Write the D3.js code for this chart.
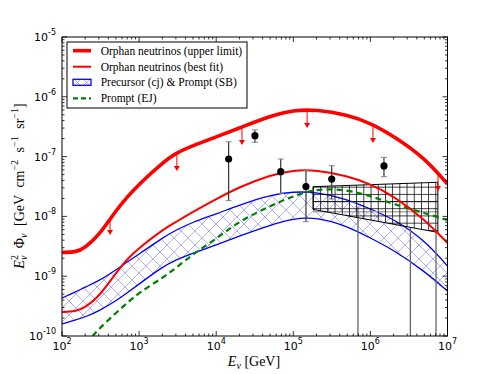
<!DOCTYPE html>
<html><head><meta charset="utf-8">
<script src="https://cdn.jsdelivr.net/npm/d3@7"></script>
<style>body{margin:0;background:#fff}
.serif{font-family:"Liberation Serif","Times New Roman","DejaVu Serif",serif}
.sans{font-family:"DejaVu Sans",sans-serif}</style>
</head><body><svg id="c" width="498" height="374"></svg>
<script>
// ---------- data ----------
const energyGrid = [1e2,1.5e2,2e2,3e2,5e2,7e2,1e3,2e3,3e3,5e3,1e4,2e4,5e4,1e5,2e5,5e5,1e6,2e6,5e6,1e7];
const upperLimit = [2.5e-9,2.5e-9,3.0e-9,4.8e-9,1.25e-8,2.11e-8,3.48e-8,7.82e-8,1.15e-7,1.53e-7,2.13e-7,3.01e-7,4.78e-7,6.0e-7,6.1e-7,5.0e-7,3.65e-7,2.21e-7,9.66e-8,3.48e-8];
const bestFit    = [2.52e-10,2.55e-10,3.0e-10,4.49e-10,1.13e-9,1.94e-9,2.96e-9,5.93e-9,8.05e-9,1.19e-8,1.95e-8,3.10e-8,4.92e-8,5.95e-8,5.95e-8,4.75e-8,3.48e-8,2.19e-8,9.06e-9,3.59e-9];
const bandUpper  = [4.32e-10,5.44e-10,6.59e-10,8.31e-10,1.27e-9,1.73e-9,2.35e-9,4.35e-9,5.93e-9,8.05e-9,1.10e-8,1.55e-8,2.28e-8,2.6e-8,2.55e-8,1.95e-8,1.33e-8,9.06e-9,4.03e-9,1.48e-9];
const bandLower  = [1.59e-10,1.85e-10,2.08e-10,2.62e-10,3.85e-10,5.24e-10,7.41e-10,1.43e-9,1.87e-9,2.44e-9,3.33e-9,4.70e-9,7.18e-9,9.2e-9,9.7e-9,6.9e-9,4.35e-9,2.74e-9,1.22e-9,5.66e-10];
const promptE    = [250,300,500,700,1e3,2e3,3e3,5e3,1e4,2e4,5e4,1e5,2e5,5e5,1e6,2e6,5e6,1e7];
const promptEJ   = [1.0e-10,1.31e-10,2.43e-10,3.56e-10,5.3e-10,9.33e-10,1.37e-9,2.35e-9,4.19e-9,8.37e-9,1.49e-8,2.19e-8,2.9e-8,2.8e-8,2.19e-8,1.61e-8,1.14e-8,8.7e-9];
const arrowE     = [420,3090,21600,1.51e5,1.08e6,7.53e6];
const arrowF     = [9.77e-9,1.15e-7,3.13e-7,6.0e-7,3.37e-7,5.32e-8];
const pointE     = [14500,31800,68700,1.46e5,3.15e5,1.5e6];
const pointF     = [9.12e-8,2.24e-7,5.6e-8,3.16e-8,4.22e-8,6.97e-8];
const pointLo    = [1.83e-8,1.73e-7,2.43e-8,8.15e-9,1.95e-8,4.61e-8];
const pointHi    = [1.77e-7,2.79e-7,9.12e-8,5.81e-8,7.05e-8,9.73e-8];
const boxE       = [1.8e5,7.5e6];
const boxTop     = [3.14e-8,3.72e-8];
const boxBottom  = [1.31e-8,5.4e-9];
const grayHLines = [1.76e-8,1.2e-8];
const grayVE     = [6.9e5,3.3e6,7.1e6];
const grayVTop   = [1.44e-8,null,null];
const xTicks = [2,3,4,5,6,7];
const yTicks = [-10,-9,-8,-7,-6,-5];
const legendLabels = ["Orphan neutrinos (upper limit)","Orphan neutrinos (best fit)","Precursor (cj) & Prompt (SB)","Prompt (EJ)"];

// ---------- chart ----------
const svg = d3.select('#c');
const M = {l:62, r:447.5, t:37, b:336};
const x = d3.scaleLog().domain([1e2,1e7]).range([M.l,M.r]);
const y = d3.scaleLog().domain([1e-10,1e-5]).range([M.b,M.t]);
const defs = svg.append('defs');
defs.append('clipPath').attr('id','clip').append('rect')
  .attr('x',M.l).attr('y',M.t).attr('width',M.r-M.l).attr('height',M.b-M.t);
const hx = defs.append('pattern').attr('id','hx').attr('patternUnits','userSpaceOnUse')
  .attr('width',14).attr('height',14).attr('patternTransform','translate(62,0)');
hx.append('path').attr('d','M0,0L14,14M14,0L0,14').attr('stroke','#7a7aff').attr('stroke-width',0.6).attr('fill','none');
const hxs = defs.append('pattern').attr('id','hxs').attr('patternUnits','userSpaceOnUse')
  .attr('width',9).attr('height',9).attr('patternTransform','translate(73,78)');
hxs.append('path').attr('d','M0,0L9,9M9,0L0,9').attr('stroke','#7a7aff').attr('stroke-width',0.6).attr('fill','none');
const hg = defs.append('pattern').attr('id','hg').attr('patternUnits','userSpaceOnUse')
  .attr('width',7.2).attr('height',7.2).attr('patternTransform','translate('+x(boxE[0])+','+y(boxTop[0])+')');
hg.append('path').attr('d','M0.4,0V7.2M0,0.4H7.2').attr('stroke','#000').attr('stroke-width',0.8).attr('fill','none');

const g = svg.append('g').attr('clip-path','url(#clip)');
const curve = d3.curveBasis;

// blue band
const area = d3.area().x((d,i)=>x(energyGrid[i])).y0((d,i)=>y(bandLower[i])).y1((d,i)=>y(bandUpper[i])).curve(curve);
g.append('path').datum(energyGrid).attr('d',area).attr('fill','url(#hx)');
const line = (E,F)=>d3.line().x((d,i)=>x(E[i])).y((d,i)=>y(F[i])).curve(curve)(E);
g.append('path').attr('d',line(energyGrid,bandUpper)).attr('fill','none').attr('stroke','#0000ff').attr('stroke-width',1.3);
g.append('path').attr('d',line(energyGrid,bandLower)).attr('fill','none').attr('stroke','#0000ff').attr('stroke-width',1.3);

// gray lines
grayHLines.forEach(f=>g.append('line').attr('x1',x(boxE[0])).attr('x2',x(boxE[1])).attr('y1',y(f)).attr('y2',y(f))
  .attr('stroke','#aaa').attr('stroke-width',1.5));
const boxBotAt = e => { const t=(Math.log10(e)-Math.log10(boxE[0]))/(Math.log10(boxE[1])-Math.log10(boxE[0]));
  return Math.pow(10, Math.log10(boxBottom[0])+t*(Math.log10(boxBottom[1])-Math.log10(boxBottom[0]))); };
grayVE.forEach((e,i)=>{
  const top = grayVTop[i] ?? boxBotAt(Math.min(e,boxE[1]));
  g.append('line').attr('x1',x(e)).attr('x2',x(e)).attr('y1',y(top)).attr('y2',y(1e-10)).attr('stroke','#666').attr('stroke-width',1.3);
  if (grayVTop[i]) g.append('line').attr('x1',x(e)-3).attr('x2',x(e)+3).attr('y1',y(top)).attr('y2',y(top)).attr('stroke','#aaa').attr('stroke-width',1);
});

// black hatched box
const boxPts = [[boxE[0],boxTop[0]],[boxE[1],boxTop[1]],[boxE[1],boxBottom[1]],[boxE[0],boxBottom[0]]];
g.append('polygon').attr('points',boxPts.map(p=>x(p[0])+','+y(p[1])).join(' '))
  .attr('fill','url(#hg)').attr('stroke','#000').attr('stroke-width',1);

// green dashed
g.append('path').attr('d',line(promptE,promptEJ)).attr('fill','none').attr('stroke','#008000').attr('stroke-width',2.2).attr('stroke-dasharray','6,4');
// thin red
g.append('path').attr('d',line(energyGrid,bestFit)).attr('fill','none').attr('stroke','#ff0000').attr('stroke-width',2);
// thick red
g.append('path').attr('d',line(energyGrid,upperLimit)).attr('fill','none').attr('stroke','#ff0000').attr('stroke-width',3.6);

// arrows
arrowE.forEach((e,i)=>{
  const x0=x(e), y0=y(arrowF[i]), y1=y(arrowF[i]/2);
  g.append('line').attr('x1',x0).attr('x2',x0).attr('y1',y0).attr('y2',y1-3).attr('stroke','#ff0000').attr('stroke-width',1);
  g.append('path').attr('d',`M${x0-3},${y1-5}L${x0+3},${y1-5}L${x0},${y1}Z`).attr('fill','#ff0000');
});

// data points
pointE.forEach((e,i)=>{
  const x0=x(e);
  g.append('line').attr('x1',x0).attr('x2',x0).attr('y1',y(pointLo[i])).attr('y2',y(pointHi[i])).attr('stroke','#333').attr('stroke-width',1.2);
  [pointLo[i],pointHi[i]].forEach(v=>g.append('line').attr('x1',x0-3).attr('x2',x0+3).attr('y1',y(v)).attr('y2',y(v)).attr('stroke','#888').attr('stroke-width',1));
  g.append('circle').attr('cx',x0).attr('cy',y(pointF[i])).attr('r',3.6).attr('fill','#000');
});

// frame
svg.append('rect').attr('x',M.l).attr('y',M.t).attr('width',M.r-M.l).attr('height',M.b-M.t).attr('fill','none').attr('stroke','#000').attr('stroke-width',1);

// ticks
const tk = svg.append('g').attr('stroke','#000').attr('stroke-width',0.8);
xTicks.forEach(p=>{
  for (let m=1;m<=9;m++){
    const v=m*Math.pow(10,p); if (v>1e7) break;
    const L = m===1?5:2.5, xx=x(v);
    tk.append('line').attr('x1',xx).attr('x2',xx).attr('y1',M.b).attr('y2',M.b-L);
    tk.append('line').attr('x1',xx).attr('x2',xx).attr('y1',M.t).attr('y2',M.t+L);
  }
});
yTicks.forEach(p=>{
  for (let m=1;m<=9;m++){
    const v=m*Math.pow(10,p); if (v>1e-5*1.0001) break;
    const L = m===1?5:2.5, yy=y(v);
    tk.append('line').attr('x1',M.l).attr('x2',M.l+L).attr('y1',yy).attr('y2',yy);
    tk.append('line').attr('x1',M.r).attr('x2',M.r-L).attr('y1',yy).attr('y2',yy);
  }
});
xTicks.forEach(p=>{
  const t=svg.append('text').attr('class','sans').attr('x',x(Math.pow(10,p))).attr('y',350).attr('text-anchor','middle').attr('font-size',11);
  t.append('tspan').text('10');
  t.append('tspan').attr('dy',-6).attr('font-size',8).text(p);
});
yTicks.forEach(p=>{
  const t=svg.append('text').attr('class','sans').attr('x',56).attr('y',y(Math.pow(10,p))+4).attr('text-anchor','end').attr('font-size',11);
  t.append('tspan').text('10');
  t.append('tspan').attr('dy',-6).attr('font-size',8).text(p);
});

// axis labels
const xl = svg.append('text').attr('class','serif').attr('x',254).attr('y',366).attr('text-anchor','middle').attr('font-size',14);
xl.append('tspan').attr('font-style','italic').text('E');
xl.append('tspan').attr('dy',3).attr('font-size',10).attr('font-style','italic').text('ν');
xl.append('tspan').attr('dy',-3).text(' [GeV]');

const yl = svg.append('text').attr('class','serif').attr('transform','translate(24,186) rotate(-90)').attr('text-anchor','middle')
  .attr('font-size',14).attr('word-spacing',4);
yl.append('tspan').attr('font-style','italic').text('E');
yl.append('tspan').attr('dy',-6).attr('font-size',10).text('2');
yl.append('tspan').attr('dx',-5).attr('dy',9).attr('font-size',10).attr('font-style','italic').text('ν');
yl.append('tspan').attr('dy',-3).text(' Φ');
yl.append('tspan').attr('dy',3).attr('font-size',10).attr('font-style','italic').text('ν');
yl.append('tspan').attr('dy',-3).text(' [GeV cm');
yl.append('tspan').attr('dy',-6).attr('font-size',10).text('−2');
yl.append('tspan').attr('dy',6).text(' s');
yl.append('tspan').attr('dy',-6).attr('font-size',10).text('−1');
yl.append('tspan').attr('dy',6).text(' sr');
yl.append('tspan').attr('dy',-6).attr('font-size',10).text('−1');
yl.append('tspan').attr('dy',6).text(']');

// legend
const lg = svg.append('g');
lg.append('rect').attr('x',67).attr('y',42).attr('width',180).attr('height',66).attr('fill','#fff').attr('stroke','#000').attr('stroke-width',1);
const ly = [50.7,66.7,82.3,98.3];
lg.append('line').attr('x1',73).attr('x2',91).attr('y1',ly[0]).attr('y2',ly[0]).attr('stroke','#ff0000').attr('stroke-width',3.6);
lg.append('line').attr('x1',73).attr('x2',91).attr('y1',ly[1]).attr('y2',ly[1]).attr('stroke','#ff0000').attr('stroke-width',2);
lg.append('rect').attr('x',73).attr('y',ly[2]-3).attr('width',18).attr('height',6).attr('fill','url(#hxs)').attr('stroke','#0000ff').attr('stroke-width',1.3);
lg.append('line').attr('x1',73).attr('x2',91).attr('y1',ly[3]).attr('y2',ly[3]).attr('stroke','#008000').attr('stroke-width',2.2).attr('stroke-dasharray','5,3');
legendLabels.forEach((s,i)=>lg.append('text').attr('class','serif').attr('x',100.7).attr('y',ly[i]+4).attr('font-size',11.5).text(s));
</script></body></html>
